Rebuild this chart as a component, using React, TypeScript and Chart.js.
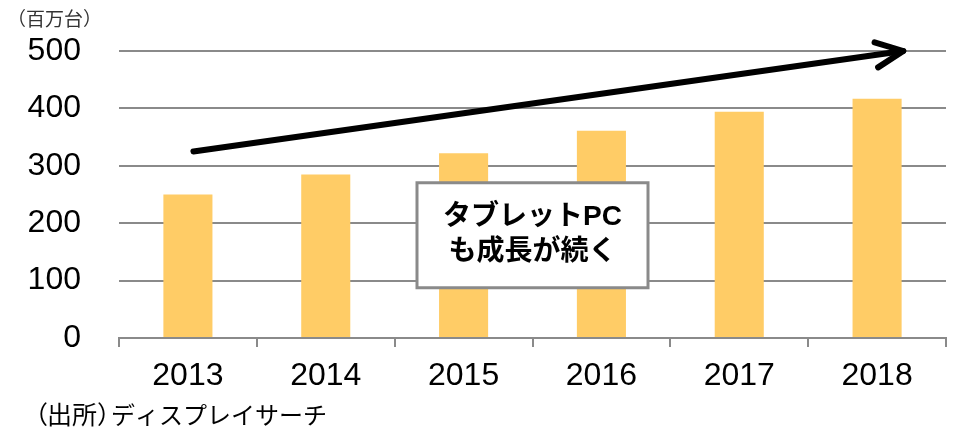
import React, { useEffect, useRef } from "react";
import { Chart, registerables } from "chart.js";

Chart.register(...registerables);

const categories = ["2013", "2014", "2015", "2016", "2017", "2018"];
const shipments = [250, 285, 322, 361, 394, 417];
const yMin = 0;
const yMax = 500;
const yStep = 100;

const unitLabel = "（百万台）";
const sourcePrefix = ["（", "出所", "）"];
const sourceName = "ディスプレイサーチ";

// trend arrow in data coordinates (category index, value)
const trendArrowX = [0.04, 5.19];
const trendArrowY = [325, 500];

// callout box anchored in data coordinates
const calloutLines = ["タブレットPC", "も成長が続く"];
const calloutX = [2.5];
const calloutY = [179];

const FONT = '"Liberation Sans", "Noto Sans CJK JP", sans-serif';
const GRID = "#8a8a8a";
const BAR = "#FFCC66";

const overlayPlugin = {
  id: "overlay",
  afterDatasetsDraw(chart: any) {
    const { ctx, scales } = chart;
    const xs = scales.x;
    const ys = scales.y;
    ctx.save();
    // arrow
    const x0 = xs.getPixelForValue(trendArrowX[0]);
    const y0 = ys.getPixelForValue(trendArrowY[0]);
    const x1 = xs.getPixelForValue(trendArrowX[1]);
    const y1 = ys.getPixelForValue(trendArrowY[1]);
    ctx.strokeStyle = "#000";
    ctx.lineWidth = 6;
    ctx.lineCap = "round";
    ctx.lineJoin = "round";
    ctx.beginPath();
    ctx.moveTo(x0, y0);
    ctx.lineTo(x1, y1);
    ctx.stroke();
    const ang = Math.atan2(y0 - y1, x0 - x1);
    const head = 30;
    const spread = (25 * Math.PI) / 180;
    ctx.beginPath();
    ctx.moveTo(x1 + head * Math.cos(ang + spread), y1 + head * Math.sin(ang + spread));
    ctx.lineTo(x1, y1);
    ctx.lineTo(x1 + head * Math.cos(ang - spread), y1 + head * Math.sin(ang - spread));
    ctx.stroke();

    // callout box
    const cx = xs.getPixelForValue(calloutX[0]);
    const cy = ys.getPixelForValue(calloutY[0]);
    const bw = 231;
    const bh = 105;
    ctx.fillStyle = "#fff";
    ctx.fillRect(cx - bw / 2, cy - bh / 2, bw, bh);
    ctx.strokeStyle = GRID;
    ctx.lineWidth = 3;
    ctx.lineJoin = "miter";
    ctx.strokeRect(cx - bw / 2, cy - bh / 2, bw, bh);
    ctx.fillStyle = "#000";
    ctx.font = `bold 28px ${FONT}`;
    ctx.textAlign = "center";
    ctx.textBaseline = "middle";
    const gap = 35;
    calloutLines.forEach((line, i) => {
      ctx.fillText(line, cx, cy + (i - (calloutLines.length - 1) / 2) * gap);
    });
    ctx.restore();
  },
  afterDraw(chart: any) {
    const { ctx } = chart;
    ctx.save();
    ctx.textAlign = "left";
    ctx.textBaseline = "middle";
    ctx.fillStyle = "#333";
    ctx.font = `19px ${FONT}`;
    ctx.fillText(unitLabel, 7, 21);
    ctx.fillStyle = "#000";
    ctx.font = `25px ${FONT}`;
    const sy = 417;
    ctx.fillText(sourcePrefix[0], 23, sy);
    ctx.fillText(sourcePrefix[1], 47, sy);
    ctx.fillText(sourcePrefix[2], 97, sy);
    ctx.font = `24px ${FONT}`;
    ctx.fillText(sourceName, 111, sy);
    ctx.restore();
  },
};

export default function App() {
  const canvasRef = useRef<HTMLCanvasElement | null>(null);

  useEffect(() => {
    document.body.style.margin = "0";
    const canvas = canvasRef.current;
    if (!canvas) return;
    const chart = new Chart(canvas, {
      type: "bar",
      data: {
        labels: categories,
        datasets: [
          {
            data: shipments,
            backgroundColor: BAR,
            borderWidth: 0,
            categoryPercentage: 1,
            barPercentage: 0.356,
          },
        ],
      },
      options: {
        animation: false,
        responsive: true,
        maintainAspectRatio: false,
        layout: { padding: { top: 51, right: 8, bottom: 0, left: 0 } },
        plugins: {
          legend: { display: false },
          tooltip: { enabled: false },
        },
        scales: {
          x: {
            offset: true,
            grid: {
              display: true,
              drawOnChartArea: false,
              drawTicks: true,
              tickLength: 9,
              color: GRID,
              lineWidth: 2,
              offset: true,
            },
            border: { display: true, color: GRID, width: 2 },
            ticks: {
              color: "#000",
              font: { family: FONT, size: 32 },
              padding: 10,
              maxRotation: 0,
            },
            afterFit: (s: any) => {
              s.height = 89;
            },
          },
          y: {
            min: yMin,
            max: yMax,
            grid: {
              color: GRID,
              lineWidth: 2,
              drawTicks: false,
            },
            border: { display: false },
            ticks: {
              stepSize: yStep,
              color: "#000",
              font: { family: FONT, size: 32 },
              padding: 38,
            },
            afterFit: (s: any) => {
              s.width = 119;
              s.paddingTop = 0;
              s.paddingBottom = 0;
            },
          },
        },
      },
      plugins: [overlayPlugin],
    });
    return () => chart.destroy();
  }, []);

  return (
    <div style={{ position: "relative", width: 954, height: 427 }}>
      <canvas ref={canvasRef} />
    </div>
  );
}
